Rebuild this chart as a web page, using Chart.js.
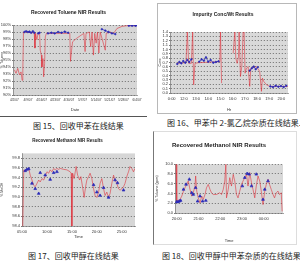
<!DOCTYPE html>
<html>
<head>
<meta charset="utf-8">
<script src="https://cdn.jsdelivr.net/npm/chart.js@4"></script>
<style>
	body { margin: 0; width: 300px; height: 262px; background: #fff; position: relative; overflow: hidden; }
	canvas { position: absolute; }
	.cap { position: absolute; font-family: "Noto Sans CJK SC", sans-serif; font-size: 8px; color: #222; white-space: nowrap; line-height: 1; }
	.frame { position: absolute; box-sizing: border-box; }
</style>
</head>
<body>
<div class="frame" style="left:0;top:116px;width:147px;height:1px;background:#555"></div>
<div class="frame" style="left:157px;top:3px;width:140px;height:111px;border:1px solid #b8b8b8"></div>
<div class="frame" style="left:153px;top:131px;width:144px;height:114px;border:1px solid #ddd;border-left:1px solid #777"></div>

<canvas id="c1" width="148" height="112" style="left:0;top:0"></canvas>
<canvas id="c2" width="138" height="108" style="left:158px;top:4px"></canvas>
<canvas id="c3" width="148" height="108" style="left:0;top:131px"></canvas>
<canvas id="c4" width="142" height="110" style="left:155px;top:133px"></canvas>

<div class="cap" style="left:33px;top:122px">图 15、回收甲苯在线结果</div>
<div class="cap" style="left:167px;top:119px">图 16、甲苯中 2-氯乙烷杂质在线结果.</div>
<div class="cap" style="left:28px;top:252px">图 17、回收甲醇在线结果</div>
<div class="cap" style="left:162px;top:252px">图 18、回收甲醇中甲苯杂质的在线结果.</div>

<script>
// fig 15 - recovered toluene
const p1Ticks = ['4/2/07', '4/9/07', '4/16/07', '4/23/07', '4/30/07', '5/7/07', '5/14/07', '5/21/07', '5/28/07', '6/4/07'];
const p1RedX = [0, 0.12, 0.25, 0.37, 0.49, 0.57, 0.62, 0.67, 0.86, 1.23, 1.46, 1.51, 1.56, 1.65, 1.75, 1.85, 1.9, 1.98, 2.02, 2.1, 2.15, 2.22, 2.27, 2.35, 3.2, 4.07, 4.12, 4.2, 4.27, 4.57, 4.94, 5.1, 5.19, 5.26, 5.5, 5.6, 5.7, 5.8, 5.9, 6.0, 6.1, 6.2, 6.3, 6.67, 6.74, 7.04, 7.28, 7.53, 7.9, 8.27, 9];
const p1RedY = [93.6, 93.1, 93.8, 92.9, 93.3, 92.1, 93.3, 99.0, 99.0, 98.9, 98.9, 96.7, 98.8, 97.9, 98.9, 98.8, 96.4, 95.7, 94.0, 95.2, 92.6, 94.5, 98.3, 98.8, 98.8, 98.8, 94.8, 96.4, 97.6, 98.1, 98.6, 98.8, 96.2, 98.8, 99.0, 96.9, 99.0, 95.7, 98.8, 97.4, 99.0, 96.0, 99.0, 96.4, 98.8, 99.0, 98.8, 99.5, 99.8, 99.9, 99.9];
const p1BlueX = [0.74, 0.86, 0.99, 1.11, 1.23, 1.36, 1.46, 1.6, 1.75, 1.85, 2.2, 2.47, 2.72, 2.96, 3.21, 3.46, 3.7, 3.95, 5.0, 6.42, 6.67, 6.91, 7.16, 7.41, 8.0, 8.4, 8.64, 8.89, 9.0];
const p1BlueY = [99.0, 99.1, 99.0, 99.05, 98.9, 99.1, 98.9, null, 98.8, 98.9, null, 98.8, 98.9, 98.8, 99.0, 98.9, 99.05, 98.9, null, 99.4, 99.2, 99.0, 98.8, 98.7, null, 99.9, 99.9, 99.9, 99.95];

// fig 16 - 2-chloroethane in toluene
const p2Ticks = ['0:00', '12:0', '13:0', '14:0', '15:0', '16:0', '17:0', '18:0', '19:0', '20:0'];
const p2RedX = [0.41, 1.17, 1.28, 1.39, 1.61, 1.72, 1.8, 1.91, 2.18, 3.95, 4.0, 4.09, 4.5, 5.04, 5.18, 5.26, 5.37, 5.48, 5.53, 5.64, 5.75, 5.86, 5.94, 6.02, 6.13, 6.27, 6.4, 6.49, 6.95, 7.22, 7.36, 7.44, 7.55, 7.77, 8.04, 9.54];
const p2RedY = [68.1, 69.6, 140, 68.1, 68.1, 140, 18.9, 68.1, 69.6, 71.9, 140, 22.7, null, 90.8, 140, 79.5, 68.1, 83.3, 140, 37.9, 60.6, 140, 140, 45.4, 56.8, 60.6, 15.1, 56.8, 60.6, 49.2, 3.8, 34.1, 26.5, 18.9, 15.1, 15.1];
const p2BlueX = [0.46, 0.63, 0.79, 0.95, 1.12, 1.28, 1.44, 1.61, 1.9, 2.26, 2.45, 2.64, 2.81, 3.0, 3.19, 3.41, 3.62, 3.84, 5.0, 6.4, 6.57, 6.73, 6.89, 7.06, 7.7, 8.09, 8.31, 8.53, 8.75, 8.96, 9.18, 9.4];
const p2BlueY = [66.6, 71.2, 68.1, 73.4, 69.6, 75.7, 71.2, 77.2, null, 71.9, 77.2, 74.2, 81.8, 71.9, 75.7, 69.6, 71.2, 72.7, null, 51.5, 56.8, 60.6, 54.5, 59.0, null, 15.1, 13.6, 16.7, 14.4, 15.9, 13.6, 16.7];

// fig 17 - recovered methanol
const p3Ticks = ['05:00', '10:00', '15:00', '20:00', '25:00'];
const p3RedX = [0.03, 0.07, 0.13, 0.2, 0.27, 0.33, 0.4, 0.47, 0.53, 0.6, 0.67, 0.73, 0.8, 0.87, 0.93, 1.0, 1.07, 1.13, 1.2, 1.27, 1.33, 1.4, 1.47, 1.53, 1.67, 1.8, 1.93, 1.97, 2.0, 2.03, 2.09, 2.17, 2.23, 2.31, 2.36, 2.44, 2.49, 2.55, 2.6, 2.67, 2.73, 2.8, 2.87, 2.93, 3.0, 3.07, 3.13, 3.2, 3.27, 3.33, 3.4, 3.47, 3.53, 3.6, 3.67, 3.73, 3.8, 3.87, 3.93, 4.0, 4.07, 4.13, 4.2, 4.27, 4.33, 4.4, 4.47, 4.53];
const p3RedY = [98.4, 99.56, 99.52, 99.56, 99.59, 99.45, 99.35, 99.24, 99.21, 99.28, 99.35, 99.31, 99.38, 99.35, 99.42, 99.52, 99.49, 99.56, 99.52, 99.59, 99.56, 99.59, 99.57, 99.59, 99.57, 99.56, 99.52, 99.49, 98.4, 99.49, 99.38, 99.63, 99.45, 99.35, 99.42, 99.17, 98.99, 99.21, 99.35, 99.42, 99.49, 99.38, 99.17, 99.03, 98.99, 99.1, 99.28, 99.38, 99.17, 99.03, 99.1, 98.99, 99.07, 99.28, 99.45, 99.35, 99.28, 99.17, 99.14, 99.17, 99.21, 99.28, 99.42, 99.52, 99.63, 99.59, 99.52, 99.59];
const p3BlueX = [0.13, 0.2, 0.27, 0.4, 0.53, 0.67, 0.73, 0.93, 1.13, 1.27, 1.4, 2.87, 3.0, 3.13, 3.27, 3.47, 3.73, 3.83, 4.07];
const p3BlueY = [99.54, 99.57, 99.58, 99.28, 99.17, 99.07, 99.5, 99.45, 99.36, 99.5, 99.52, 99.25, 99.1, 99.03, 99.19, 98.99, 99.35, 99.29, 99.14];

// fig 18 - toluene impurity in recovered methanol
const p4Ticks = ['20:00', '21:00', '22:00', '23:00', '00:00'];
const p4RedX = [-0.03, 0, 0.15, 0.23, 0.31, 0.38, 0.46, 0.53, 0.61, 0.69, 0.76, 0.84, 0.87, 0.92, 0.99, 1.07, 1.15, 1.22, 1.3, 1.37, 1.45, 1.53, 1.6, 1.68, 1.83, 1.98, 2.06, 2.14, 2.21, 2.26, 2.29, 2.37, 2.44, 2.52, 2.6, 2.67, 2.75, 2.82, 2.9, 2.98, 3.05, 3.13, 3.21, 3.28, 3.36, 3.44, 3.51, 3.59, 3.66, 3.74, 3.82, 3.89, 3.97, 4.05, 4.12, 4.2, 4.27, 4.35, 4.43, 4.5, 4.58, 4.66, 4.73, 4.81, 4.85];
const p4RedY = [10, 2.41, 2.76, 3.45, 4.48, 5.17, 5.86, 6.55, 4.83, 3.45, 4.14, 5.52, 7.59, 4.48, 3.1, 2.07, 3.45, 2.76, 3.79, 5.17, 5.86, 4.83, 4.14, 3.79, 3.79, 4.14, 3.79, 4.83, 6.55, 10, 3.1, 4.83, 7.24, 5.52, 7.93, 6.55, 3.79, 3.1, 4.48, 5.86, 6.55, 7.24, 7.93, 5.52, 8.28, 6.21, 4.83, 3.1, 5.52, 7.59, 6.55, 4.48, 1.72, 4.48, 5.86, 6.9, 5.86, 4.83, 3.79, 3.1, 4.14, 4.48, 3.79, 4.14, 0.34];
const p4BlueX = [0, 0.06, 0.12, 0.18, 0.31, 0.43, 0.58, 0.69, 0.76, 0.87, 0.96, 1.07, 1.19, 1.34, 3.02, 3.13, 3.24, 3.33, 3.44, 3.66, 3.97, 4.05, 4.2];
const p4BlueY = [2.28, 2.28, 2.41, 2.55, 4.83, 5.86, 6.9, 4.14, 3.79, 5.17, 2.41, 3.45, 2.41, 2.55, 5.52, 7.24, 8.07, 7.93, 5.52, 7.93, 2.76, 4.83, 6.55];

const RED = 'rgba(222,40,50,0.8)';
const BLUE = '#2a2ab8';
const tickFont = { family: 'Liberation Sans', size: 4 };

const plotBackground = {
	id: 'plotBackground',
	beforeDraw: (chart, args, opts) => {
		const { ctx, chartArea } = chart;
		ctx.save();
		ctx.fillStyle = opts.color;
		ctx.fillRect(chartArea.left, chartArea.top, chartArea.width, chartArea.height);
		ctx.restore();
	}
};

const pts = (xs, ys) => xs.map((x, i) => ({ x: x, y: ys[i] }));
const onlyInts = (scale) => { scale.ticks = scale.ticks.filter((t) => Math.abs(t.value - Math.round(t.value)) < 1e-6); };

function makePanel(id, p) {
	const datasets = [
		{ data: pts(p.redX, p.redY), borderColor: RED, borderWidth: 0.7, pointRadius: 0, spanGaps: false, order: 2 },
		{
			data: pts(p.blueX, p.blueY),
			borderColor: BLUE,
			backgroundColor: BLUE,
			borderWidth: 0.7,
			showLine: p.blueLine,
			pointRadius: p.blueLine ? 0.8 : 1.6,
			pointStyle: p.blueLine ? 'circle' : 'triangle',
			spanGaps: false,
			order: 1
		}
	];
	return new Chart(document.getElementById(id), {
		type: 'line',
		data: { datasets: datasets },
		plugins: [plotBackground],
		options: {
			responsive: false,
			animation: false,
			devicePixelRatio: 1,
			layout: { padding: { left: 0, right: p.padRight, top: 0, bottom: 0 } },
			plugins: {
				legend: { display: false },
				tooltip: { enabled: false },
				plotBackground: { color: p.bg },
				title: {
					display: true,
					text: p.title,
					color: '#222',
					font: { family: 'Liberation Sans', size: p.titleSize, weight: 'bold' },
					padding: { top: p.titleTop, bottom: p.titleBottom }
				}
			},
			scales: {
				x: {
					type: 'linear',
					min: p.xMin,
					max: p.xMax,
					afterBuildTicks: onlyInts,
					afterFit: (scale) => { scale.height = p.xHeight; },
					ticks: {
						stepSize: 1, includeBounds: false, autoSkip: false, maxRotation: 0, padding: 1,
						font: { family: 'Liberation Sans', size: p.xTickSize || 4 }, color: '#333',
						callback: (v) => p.xTicks[Math.round(v)]
					},
					grid: { display: false, drawTicks: true, tickLength: 2 },
					border: { color: '#666', width: 0.6 },
					title: { display: true, text: p.xTitle, font: { family: 'Liberation Sans', size: 4 }, color: '#333', padding: 0 }
				},
				y: {
					min: p.yMin,
					max: p.yMax,
					afterBuildTicks: p.yFilter,
					afterFit: (scale) => { scale.width = p.yWidth; },
					ticks: { stepSize: p.yStep, includeBounds: false, autoSkip: false, font: tickFont, color: '#333', padding: 1, callback: p.yFormat },
					// dotted horizontal grid lines
					grid: { color: '#222', lineWidth: 0.6, tickLength: 1 },
					border: { dash: [1, 2], color: '#666', width: 0.6 },
					title: { display: true, text: p.yTitle, font: { family: 'Liberation Sans', size: 3.5 }, color: '#333', padding: 0 }
				}
			}
		},
	});
}

makePanel('c1', {
	title: 'Recovered Toluene NIR Results', titleSize: 5, titleTop: 10, titleBottom: 9,
	redX: p1RedX, redY: p1RedY, blueX: p1BlueX, blueY: p1BlueY, blueLine: true,
	xMin: -0.1, xMax: 9, xTicks: p1Ticks, xTickSize: 3.2, xTitle: 'Date', xHeight: 17,
	yMin: 90, yMax: 100, yStep: 1, yFormat: (v) => v + '%', yTitle: '% Toluene', yWidth: 13,
	padRight: 11, bg: '#d6d6d6'
});

makePanel('c2', {
	title: 'Impurity Conc/Wt Results', titleSize: 5, titleTop: 8, titleBottom: 14,
	redX: p2RedX, redY: p2RedY, blueX: p2BlueX, blueY: p2BlueY, blueLine: true,
	xMin: -0.14, xMax: 9.54, xTicks: p2Ticks, xTitle: 'Hr', xHeight: 19,
	yMin: 0, yMax: 140, yStep: 10, yFormat: (v) => (v / 100).toFixed(1), yTitle: 'Conc', yWidth: 12,
	padRight: 8, bg: '#d9d9d9'
});

makePanel('c3', {
	title: 'Recovered Methanol NIR Results', titleSize: 4.5, titleTop: 7, titleBottom: 10,
	redX: p3RedX, redY: p3RedY, blueX: p3BlueX, blueY: p3BlueY, blueLine: false,
	xMin: 0, xMax: 4.53, xTicks: p3Ticks, xTitle: 'Time', xHeight: 13,
	yMin: 98.4, yMax: 99.9, yStep: 0.2,
	yFilter: (scale) => { scale.ticks = scale.ticks.filter((t) => Math.abs((t.value - 98.4) / 0.2 - Math.round((t.value - 98.4) / 0.2)) < 1e-4); },
	yFormat: (v) => v.toFixed(1), yTitle: '% MeOH', yWidth: 22,
	padRight: 13, bg: '#d6d6d6'
});

makePanel('c4', {
	title: 'Recovered Methanol NIR Results', titleSize: 6, titleTop: 9, titleBottom: 15,
	redX: p4RedX, redY: p4RedY, blueX: p4BlueX, blueY: p4BlueY, blueLine: false,
	xMin: -0.08, xMax: 4.89, xTicks: p4Ticks, xTitle: 'Time', xHeight: 30,
	yMin: 0, yMax: 10, yStep: 2, yFormat: (v) => v.toFixed(1), yTitle: '% Toluene (ppm)', yWidth: 20,
	padRight: 14, bg: '#d8d8d8'
});
</script>
</body>
</html>
